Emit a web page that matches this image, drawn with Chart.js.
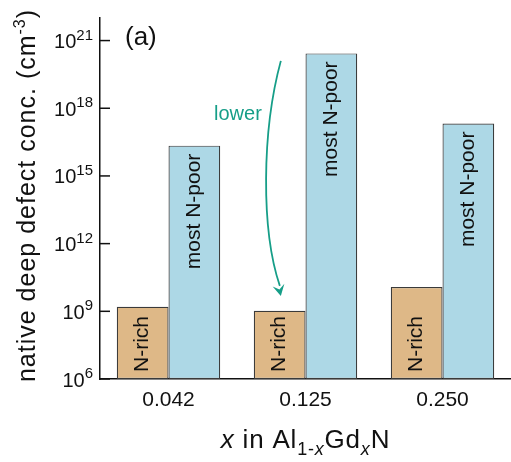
<!DOCTYPE html>
<html><head><meta charset="utf-8">
<script src="https://cdn.jsdelivr.net/npm/chart.js@4"></script>
<style>html,body{margin:0;padding:0;background:#fff}#wrap{width:511px;height:462px}</style>
</head><body><div id="wrap"><canvas id="c" width="511" height="462"></canvas></div>
<script>
// ---- data ----
const categories = ['0.042', '0.125', '0.250'];
const seriesLabels = ['N-rich', 'most N-poor'];
const nRichValues = [1.6e9, 1.05e9, 1.2e10];
const nPoorValues = [2.2e16, 2.7e20, 2.1e17];
const yTickExponents = [6, 9, 12, 15, 18, 21];
const yMinExp = 6, yMaxExp = 22;
const panelLabel = '(a)';
const arrowLabel = 'lower';
// axis titles as rich-text pieces
const yTitleParts = [
  {t: 'native deep defect conc. (cm', it: false, sup: false},
  {t: '-3', it: false, sup: true},
  {t: ')', it: false, sup: false}
];
const xTitleParts = [
  {t: 'x', it: true, sub: false},
  {t: ' in Al', it: false, sub: false},
  {t: '1-', it: false, sub: true},
  {t: 'x', it: true, sub: true},
  {t: 'Gd', it: false, sub: false},
  {t: 'x', it: true, sub: true},
  {t: 'N', it: false, sub: false}
];

const FONT = '"Liberation Sans", Arial, Helvetica, sans-serif';
const INK = '#111';
const TEAL = '#169e88';

function setSpacing(ctx, v) { if ('letterSpacing' in ctx) ctx.letterSpacing = v; }

const annot = {
  id: 'annot',
  afterDraw(chart) {
    const ctx = chart.ctx, ca = chart.chartArea;
    const ys = chart.scales.y, xs = chart.scales.x;
    ctx.save();
    // y ticks (inward) and labels with superscripts
    yTickExponents.forEach(e => {
      const py = ys.getPixelForValue(Math.pow(10, e));
      ctx.strokeStyle = INK; ctx.lineWidth = 1.5;
      ctx.beginPath(); ctx.moveTo(ca.left, py); ctx.lineTo(ca.left + 10, py); ctx.stroke();
      const exp = String(e);
      const right = ca.left - 7;
      ctx.fillStyle = INK; ctx.textAlign = 'left'; ctx.textBaseline = 'alphabetic';
      ctx.font = '15px ' + FONT;
      const ew = ctx.measureText(exp).width;
      ctx.fillText(exp, right - ew, py - 1);
      ctx.font = '20px ' + FONT;
      const bw = ctx.measureText('10').width;
      ctx.fillText('10', right - ew - bw, py + 7.5);
    });
    // bar labels
    ctx.font = '21px ' + FONT; ctx.fillStyle = INK; ctx.textBaseline = 'middle';
    chart.getDatasetMeta(0).data.forEach(el => {
      ctx.save(); ctx.translate(el.x, el.base - 7); ctx.rotate(-Math.PI / 2);
      ctx.textAlign = 'left'; ctx.fillText(seriesLabels[0], 0, 0); ctx.restore();
    });
    chart.getDatasetMeta(1).data.forEach(el => {
      ctx.save(); ctx.translate(el.x, el.y + 8); ctx.rotate(-Math.PI / 2);
      ctx.textAlign = 'right'; ctx.fillText(seriesLabels[1], 0, 0); ctx.restore();
    });
    // panel label
    ctx.textBaseline = 'alphabetic'; ctx.textAlign = 'left';
    ctx.font = '26px ' + FONT; ctx.fillStyle = INK;
    ctx.fillText(panelLabel, ca.left + 25, ca.top + 27);
    // arrow (anchored to scales)
    const cw = xs.getPixelForValue(1) - xs.getPixelForValue(0);
    const ax = xs.getPixelForValue(1) - 0.18 * cw;
    const yTop = ys.getPixelForValue(Math.pow(10, 20.1));
    const yBot = ys.getPixelForValue(Math.pow(10, 9.95));
    ctx.strokeStyle = TEAL; ctx.fillStyle = TEAL; ctx.lineWidth = 1.8;
    ctx.beginPath();
    ctx.moveTo(ax, yTop);
    ctx.bezierCurveTo(ax - 19, yTop + 70, ax - 20, yBot - 60, ax - 1, yBot - 4);
    ctx.stroke();
    const tipX = ax, tipY = yBot + 6;
    const ang = Math.atan2(tipY - (yBot - 40), tipX - (ax - 10));
    const L = 11, W = 6;
    ctx.beginPath();
    ctx.moveTo(tipX, tipY);
    ctx.lineTo(tipX - L * Math.cos(ang) + W * Math.sin(ang), tipY - L * Math.sin(ang) - W * Math.cos(ang));
    ctx.lineTo(tipX - 0.6 * L * Math.cos(ang), tipY - 0.6 * L * Math.sin(ang));
    ctx.lineTo(tipX - L * Math.cos(ang) - W * Math.sin(ang), tipY - L * Math.sin(ang) + W * Math.cos(ang));
    ctx.closePath(); ctx.fill();
    ctx.font = '20px ' + FONT; ctx.textAlign = 'right';
    ctx.fillText(arrowLabel, ax - 19, ys.getPixelForValue(Math.pow(10, 17.5)));

    // x axis title
    ctx.fillStyle = INK; ctx.textAlign = 'left'; ctx.textBaseline = 'alphabetic';
    setSpacing(ctx, '0.8px');
    const xf = p => (p.it ? 'italic ' : '') + (p.sub ? '18px ' : '26px ') + FONT;
    let total = 0;
    xTitleParts.forEach(p => { ctx.font = xf(p); p.w = ctx.measureText(p.t).width; total += p.w; });
    let x = (ca.left + ca.right) / 2 - total / 2;
    const base = ca.bottom + 69;
    xTitleParts.forEach(p => { ctx.font = xf(p); ctx.fillText(p.t, x, base + (p.sub ? 7 : 0)); x += p.w; });

    // y axis title (rotated)
    setSpacing(ctx, '1px');
    const yf = p => (p.sup ? '16px ' : '25px ') + FONT;
    let ytot = 0;
    yTitleParts.forEach(p => { ctx.font = yf(p); p.w = ctx.measureText(p.t).width; ytot += p.w; });
    ctx.save();
    ctx.translate(35, (ca.top + ca.bottom) / 2 - 3);
    ctx.rotate(-Math.PI / 2);
    let tx = -ytot / 2;
    yTitleParts.forEach(p => { ctx.font = yf(p); ctx.fillText(p.t, tx, p.sup ? -10 : 0); tx += p.w; });
    ctx.restore();
    setSpacing(ctx, '0px');
    ctx.restore();
  }
};

new Chart(document.getElementById('c'), {
  type: 'bar',
  data: {
    labels: categories,
    datasets: [
      {label: seriesLabels[0], data: nRichValues, backgroundColor: '#DEB887', borderColor: '#3a3a3a', borderWidth: 1.2, borderSkipped: false},
      {label: seriesLabels[1], data: nPoorValues, backgroundColor: '#ADD8E6', borderColor: '#3a3a3a', borderWidth: 1.2, borderSkipped: false}
    ]
  },
  options: {
    responsive: false, animation: false,
    layout: {padding: {top: 18, right: 0, left: 0, bottom: 0}},
    plugins: {legend: {display: false}, tooltip: {enabled: false}},
    datasets: {bar: {categoryPercentage: 0.755, barPercentage: 1}},
    scales: {
      x: {
        grid: {display: false, drawTicks: false},
        border: {display: true, color: INK, width: 1.5},
        ticks: {font: {family: FONT, size: 21}, color: INK, padding: 9},
        afterFit(s) { s.height = 83; }
      },
      y: {
        type: 'logarithmic', min: Math.pow(10, yMinExp), max: Math.pow(10, yMaxExp),
        grid: {display: false, drawTicks: false},
        border: {display: true, color: INK, width: 1.5},
        ticks: {display: false},
        afterBuildTicks(s) { s.ticks = yTickExponents.map(e => ({value: Math.pow(10, e)})); },
        afterFit(s) { s.width = 100; }
      }
    }
  },
  plugins: [annot]
});
</script>
</body></html>
